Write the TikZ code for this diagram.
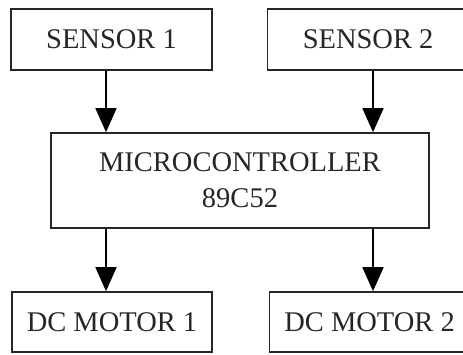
\documentclass[tikz,border=0pt]{standalone}
\usepackage{fontspec}
\setmainfont{Liberation Serif}
\usepackage{tikz}
\usetikzlibrary{arrows.meta,positioning}

\begin{document}
\begin{tikzpicture}[
  x=1pt, y=-1pt,
  block/.style={draw=black!85, line width=1.6pt, minimum width=201pt, minimum height=61pt,
    align=center, inner sep=0pt, text=black!85, font=\fontsize{28.5}{36}\selectfont},
  arr/.style={line width=1.6pt, -{Triangle[length=24pt, width=21pt]}}
]
  \clip (0,0) rectangle (463,355);
  % inputs
  \node[block] (sensA) at (111.5,39.5) {SENSOR 1};
  \node[block, right=54pt of sensA] (sensB) {SENSOR 2};
  % controller
  \node[block, minimum width=378pt, minimum height=95pt] (mcu) at (240,180.5) {MICROCONTROLLER\\89C52};
  % outputs
  \node[block, minimum width=200pt, minimum height=60pt] (motA) at (112,322) {DC MOTOR 1};
  \node[block, minimum width=200pt, minimum height=60pt, right=56pt of motA] (motB) {DC MOTOR 2};
  \coordinate (colA) at (106,0);
  \coordinate (colB) at (373,0);
  \draw[arr] (sensA.south -| colA) -- (mcu.north -| colA);
  \draw[arr] (sensB.south -| colB) -- (mcu.north -| colB);
  \draw[arr] (mcu.south -| colA) -- (motA.north -| colA);
  \draw[arr] (mcu.south -| colB) -- (motB.north -| colB);
\end{tikzpicture}
\end{document}
